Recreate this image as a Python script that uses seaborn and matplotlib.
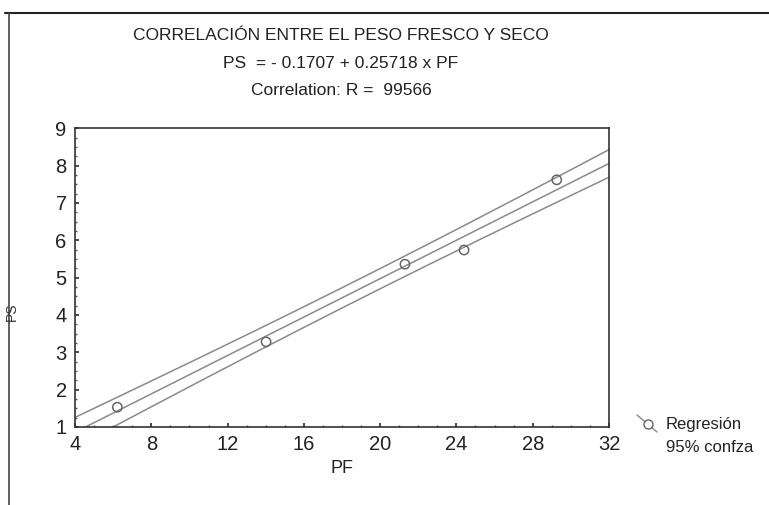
import numpy as np
import pandas as pd
import matplotlib
matplotlib.use("Agg")
import matplotlib.pyplot as plt
import seaborn as sns
from matplotlib.lines import Line2D
from matplotlib.ticker import MultipleLocator

# Data
pf = [6.22, 14.02, 21.30, 24.40, 29.26]
ps = [1.53, 3.28, 5.36, 5.74, 7.62]
x_ticks = [4, 8, 12, 16, 20, 24, 28, 32]
y_ticks = [1, 2, 3, 4, 5, 6, 7, 8, 9]

# fitted equation as printed in the title
intercept = -0.1707
slope = 0.25718
# confidence band: half-width at the centre of PF and its growth per unit PF
band_half_mid = 0.27
band_growth = 0.0195

title_lines = [
    "CORRELACIÓN ENTRE EL PESO FRESCO Y SECO",
    "PS  = - 0.1707 + 0.25718 x PF",
    "Correlation: R =  99566",
]

sns.set_theme(style="ticks")
plt.rcParams["font.family"] = ["Liberation Sans", "DejaVu Sans"]

df = pd.DataFrame({"PF": pf, "PS": ps})

grid = np.linspace(x_ticks[0], x_ticks[-1], 200)
x_mean = np.mean(pf)
fit = intercept + slope * grid
half = np.sqrt(band_half_mid ** 2 + (band_growth * (grid - x_mean)) ** 2)
band = pd.DataFrame({"PF": grid, "fit": fit, "lo": fit - half, "hi": fit + half})

fig = plt.figure(figsize=(7.69, 5.05), dpi=100)
ax = fig.add_axes([75 / 769, 78 / 505, 534 / 769, 298.7 / 505])

line_col = "#8a8a8a"
for col in ["fit", "lo", "hi"]:
    sns.lineplot(data=band, x="PF", y=col, ax=ax, color=line_col, lw=1.1)
sns.scatterplot(data=df, x="PF", y="PS", ax=ax, marker="o", s=45,
                facecolor="none", edgecolor="#666666", linewidth=1.1, zorder=3)

ax.set_xlim(4, 32)
ax.set_ylim(1, 9)
ax.set_xticks(x_ticks)
ax.set_yticks(y_ticks)
ax.xaxis.set_minor_locator(MultipleLocator(1))
ax.yaxis.set_minor_locator(MultipleLocator(0.25))
ax.tick_params(axis="both", which="major", direction="in", length=3, labelsize=14.5,
               pad=6, color="#333333", labelcolor="#222222")
ax.tick_params(axis="both", which="minor", direction="in", length=1.5, color="#555555")
ax.set_xlabel("PF", fontsize=13, labelpad=4, color="#222222")
ax.set_ylabel("")
for sp in ax.spines.values():
    sp.set_visible(True)
    sp.set_color("#333333")
    sp.set_linewidth(1.2)

# title block
for txt, ypx in zip(title_lines, [35, 63, 91]):
    fig.text(341 / 769, 1 - ypx / 505, txt, ha="center", va="center",
             fontsize=12.5, color="#222222")

# rotated y label at the far left
fig.text(12 / 769, 1 - 312 / 505, "PS", rotation=90, ha="center", va="center",
         fontsize=10, color="#333333")

# legend
fig.add_artist(Line2D([637 / 769, 657 / 769], [1 - 415 / 505, 1 - 432 / 505],
                      color="#8a8a8a", lw=1))
fig.add_artist(Line2D([648 / 769], [1 - 424 / 505], marker="o", ms=6.5,
                      mfc="white", mec="#666666", lw=0))
fig.text(666 / 769, 1 - 425 / 505, "Regresión", fontsize=12, va="center",
         color="#222222")
fig.text(666 / 769, 1 - 447 / 505, "95% confza", fontsize=12, va="center",
         color="#222222")

# frame lines around the figure
fig.add_artist(Line2D([5 / 769, 1], [1 - 13 / 505, 1 - 13 / 505], color="#222222", lw=1.5))
fig.add_artist(Line2D([9 / 769, 9 / 769], [1 - 13 / 505, 0], color="#444444", lw=1.2))

fig.savefig("out.png", dpi=100)
